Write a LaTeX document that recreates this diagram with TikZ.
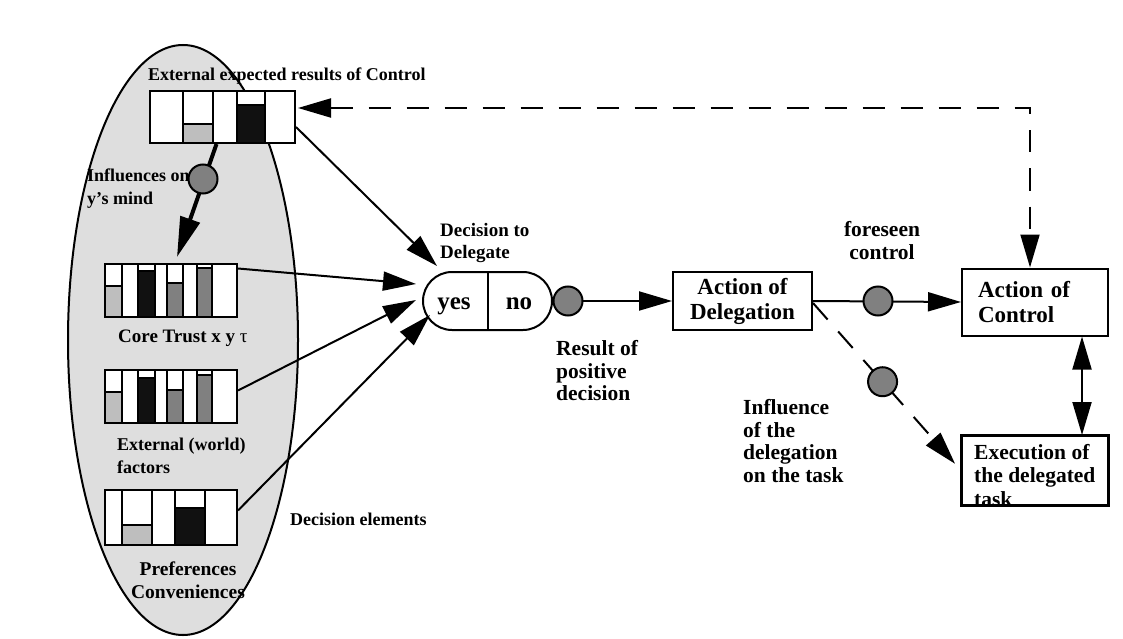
\documentclass[tikz,border=0pt]{standalone}
\usepackage{fontspec}
\setmainfont{Liberation Serif}
\usetikzlibrary{arrows.meta,shapes.misc}
\definecolor{ellgrey}{RGB}{222,222,222}
\definecolor{dotgrey}{RGB}{128,128,128}
\definecolor{lgrey}{RGB}{190,190,190}
\definecolor{mgrey}{RGB}{128,128,128}
\definecolor{dkbar}{RGB}{17,17,17}
\newcommand\barcol[6]{%
  \fill[#6] (#1,#3) rectangle (#2,#5);
  \draw[line width=2pt] (#1,#4) rectangle (#2,#5) (#1,#3) -- (#2,#3);}
\begin{document}
\begin{tikzpicture}[x=1pt,y=-1pt,
  lbl/.style={font=\fontsize{18}{22.5}\selectfont\bfseries, inner sep=0pt, align=left},
  rlbl/.style={lbl, font=\fontsize{21.5}{22.8}\selectfont\bfseries},
  blbl/.style={font=\fontsize{23}{25}\selectfont\bfseries},
  bx/.style={draw, line width=2pt, fill=white, inner sep=0pt},
  conn/.style={line width=2pt, -{Triangle[length=33pt,width=19pt]}},
  dot/.style={circle, draw, line width=2pt, fill=dotgrey, minimum size=29pt, inner sep=0pt},
  dsh/.style={line width=2pt, dash pattern=on 22pt off 16pt},
  yn/.style={font=\fontsize{25}{27}\selectfont\bfseries, inner sep=0pt, anchor=base},
]
\fill[white] (0,0) rectangle (1123,639);
\useasboundingbox (0,0) rectangle (1123,639);

% ellipse of decision elements
\draw[line width=2pt, fill=ellgrey] (183,340) ellipse [x radius=115, y radius=295];

% box 1
\node[bx, minimum width=145pt, minimum height=52pt] (b1) at (222.5,117) {};
\barcol{183}{213}{124}{91}{143}{lgrey}
\barcol{237}{265}{105}{91}{143}{dkbar}
% box 2
\node[bx, minimum width=132pt, minimum height=53pt] (b2) at (171,290.5) {};
\barcol{105}{122}{286}{264}{317}{lgrey}
\barcol{138}{155}{271}{264}{317}{dkbar}
\barcol{167}{183}{283}{264}{317}{mgrey}
\barcol{197}{212}{268}{264}{317}{mgrey}
% box 3
\node[bx, minimum width=132pt, minimum height=53pt] (b3) at (171,396.5) {};
\barcol{105}{122}{392}{370}{423}{lgrey}
\barcol{138}{155}{378}{370}{423}{dkbar}
\barcol{167}{183}{390}{370}{423}{mgrey}
\barcol{197}{212}{375}{370}{423}{mgrey}
% box 4
\node[bx, minimum width=132pt, minimum height=55pt] (b4) at (171,517.5) {};
\barcol{122}{152}{525}{490}{545}{lgrey}
\barcol{175}{205}{508}{490}{545}{dkbar}

% labels in the ellipse
\node[lbl, anchor=north west] (lext) at (148,68) {External expected results of Control};
\node[lbl, anchor=north west] (linf) at (87,169) {Influences on\\y's mind};
\node[lbl, font=\fontsize{19}{22.5}\selectfont\bfseries, anchor=north west] (lcore) at (118,330) {Core Trust x y \textnormal{τ}};
\node[lbl, anchor=north west] (lworld) at (117,438) {External (world)\\factors};
\node[lbl, font=\fontsize{19.5}{22.5}\selectfont\bfseries, anchor=north, align=center] (lpref) at (188,562) {Preferences\\Conveniences};
\node[lbl, anchor=north west] (lelem) at (290,513) {Decision elements};

% influence arrow
\draw[line width=4pt, -{Triangle[length=40pt,width=20pt]}] ([xshift=-6pt]b1.south) -- ([xshift=6pt,yshift=6pt]b2.north);
\node[dot] (d0) at (203,179) {};

% decision node
\node[draw, line width=2pt, rounded rectangle, minimum width=129pt, minimum height=58pt, inner sep=0pt, fill=white] (dec) at (487.5,301) {};
\draw[line width=2pt] (dec.north) -- (dec.south);
\node[yn] (yes) at (454,309) {yes};
\node[yn] (no) at (519,309) {no};
\node[lbl, font=\fontsize{19}{22.5}\selectfont\bfseries, anchor=north west] (ldec) at (440,223) {Decision to\\Delegate};

\coordinate (in1) at (437,266);
\coordinate (in2) at (416,284);
\coordinate (in3) at (416,300);
\coordinate (in4) at (430,315);
\draw[conn] ([yshift=-10pt]b1.east) -- (in1);
\draw[conn] ([yshift=22pt]b2.east) -- (in2);
\draw[conn] ([yshift=6pt]b3.east) -- (in3);
\draw[conn] ([yshift=7pt]b4.east) -- (in4);

% right part
\node[bx, blbl, minimum width=139pt, minimum height=58pt, align=center] (aod) at (742.5,301) {Action of\\Delegation};
\node[bx, blbl, minimum width=146pt, minimum height=67pt, align=left, text width=114pt, inner xsep=16pt] (ctrl) at (1035,302) {Action of\\Control};
\node[bx, minimum width=146pt, minimum height=69pt] (exec) at (1035,470.5) {};
\begin{scope}
\clip (exec.south west) rectangle (exec.north east);
\node[font=\fontsize{21.5}{23.5}\selectfont\bfseries, anchor=north west, align=left, inner sep=0pt] (lexec) at ([xshift=13pt,yshift=-9pt]exec.north west) {Execution of\\the delegated\\task};
\end{scope}
\draw[line width=2pt] (exec.south west) rectangle (exec.north east);

\draw[conn] (dec.east) -- (aod.west);
\node[dot] (d1) at (568,301) {};
\node[rlbl, anchor=north west] (lres) at (556,340) {Result of\\positive\\decision};

\draw[conn] (aod.east) -- (ctrl.west);
\node[dot] (d2) at (878,301) {};
\node[rlbl, anchor=north, align=center] (lfore) at (882,221) {foreseen\\control};

\draw[dsh, -{Triangle[length=33pt,width=19pt]}, shorten >=9pt] ([yshift=-2pt]aod.east) -- (exec.west) node[dot, pos=0.47, solid] (d3) {};
\node[rlbl, anchor=north west] (linfl) at (743,399) {Influence\\of the\\delegation\\on the task};

\draw[line width=2pt, {Triangle[length=33pt,width=19pt]}-{Triangle[length=33pt,width=19pt]}] ([xshift=47pt]ctrl.south) -- ([xshift=47pt]exec.north);

% dashed control feedback
\coordinate (corner) at (1030,108);
\draw[dsh, {Triangle[length=33pt,width=19pt]}-{Triangle[length=33pt,width=19pt]}] ([xshift=2pt,yshift=9pt]b1.east) -- (corner) -- ([xshift=-5pt]ctrl.north);
\end{tikzpicture}
\end{document}
